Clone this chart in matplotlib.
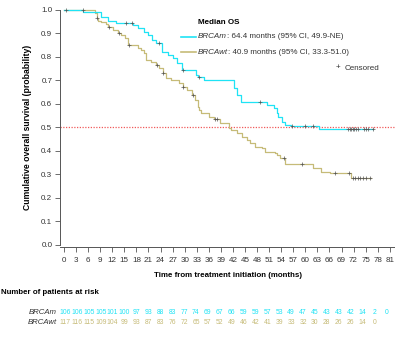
import matplotlib
matplotlib.use("Agg")
import matplotlib.pyplot as plt
import numpy as np

plt.rcParams['font.family'] = ['Liberation Sans', 'DejaVu Sans']

# ---------------- data ----------------
m_time = [0, 4.8, 9.3, 10.9, 13.0, 17.2, 18.3, 20.0, 20.8, 22.0, 22.9, 24.4, 25.8, 27.0,
          28.2, 29.3, 32.8, 33.3, 34.8, 42.2, 43.0, 43.9, 50.4, 52.1, 52.9, 53.3, 54.1,
          55.0, 56.4, 63.5]
m_surv = [1.0, 0.991, 0.971, 0.954, 0.946, 0.936, 0.922, 0.907, 0.893, 0.872, 0.861, 0.822,
          0.808, 0.794, 0.773, 0.744, 0.723, 0.713, 0.702, 0.666, 0.638, 0.609, 0.595, 0.582,
          0.561, 0.545, 0.524, 0.510, 0.506, 0.494]
m_end = 76.8
m_cens = [0.5, 4.6, 15.5, 17.0, 23.6, 29.7, 33.6, 48.8, 56.8, 59.9, 61.9, 70.6, 71.0, 71.4,
          71.8, 72.2, 72.6, 73.0, 74.6, 75.2, 75.6, 76.8]

w_time = [0, 7.7, 8.1, 8.5, 9.3, 10.4, 10.9, 12.2, 13.4, 14.2, 15.1, 15.9, 18.3, 19.2, 20.0,
          20.4, 21.7, 22.9, 23.7, 24.5, 25.4, 26.6, 28.6, 29.5, 30.7, 31.9, 32.6, 33.2, 33.6,
          34.0, 36.0, 37.3, 38.9, 40.9, 41.4, 43.0, 44.3, 45.5, 46.3, 47.6, 49.2, 50.0, 52.5,
          52.9, 53.7, 55.0, 61.9, 64.0, 66.1, 71.4]
w_surv = [1.0, 0.986, 0.965, 0.954, 0.950, 0.940, 0.929, 0.915, 0.901, 0.893, 0.879, 0.851,
          0.839, 0.829, 0.815, 0.787, 0.777, 0.766, 0.751, 0.730, 0.709, 0.702, 0.688, 0.670,
          0.659, 0.638, 0.616, 0.588, 0.574, 0.560, 0.545, 0.534, 0.520, 0.496, 0.488, 0.474,
          0.460, 0.446, 0.432, 0.417, 0.410, 0.396, 0.389, 0.382, 0.368, 0.342, 0.325, 0.311,
          0.304, 0.285]
w_end = 76.4
w_cens = [8.2, 11.2, 13.7, 16.1, 23.0, 24.6, 29.7, 32.1, 37.5, 38.0, 54.6, 59.1, 67.3, 70.8,
          71.8, 72.4, 73.0, 73.6, 74.4, 75.2, 76.0]

risk_times = list(range(0, 82, 3))
risk_m = [106, 106, 105, 105, 101, 100, 97, 93, 88, 83, 77, 74, 69, 67, 66, 59, 59, 57, 53,
          49, 47, 45, 43, 43, 42, 14, 2, 0]
risk_w = [117, 116, 115, 109, 104, 99, 93, 87, 83, 76, 72, 65, 57, 52, 49, 46, 42, 41, 39,
          33, 32, 30, 28, 26, 26, 14, 0]

legend_m = ": 64.4 months (95% CI, 49.9-NE)"
legend_w = ": 40.9 months (95% CI, 33.3-51.0)"

C_M = '#1fe3f5'
C_W = '#c6bb78'
C_TXT = '#333333'
FS = 5.8

# ---------------- figure ----------------
fig = plt.figure(figsize=(3.95, 3.38), dpi=100)
ax = fig.add_axes([60/395, 93.4/338, 335/395, 234.6/338])
ax.set_xlim(-1, 82.3)
ax.set_ylim(0, 1.0)


def step_value(times, surv, t):
    idx = np.searchsorted(times, t, side='right') - 1
    return np.array(surv)[idx]


for times, surv, end, cens, col, z in [(w_time, w_surv, w_end, w_cens, C_W, 2),
                                        (m_time, m_surv, m_end, m_cens, C_M, 3)]:
    tt = list(times) + [end]
    ss = list(surv) + [surv[-1]]
    ax.step(tt, ss, where='post', color=col, lw=0.9, clip_on=False, zorder=z)
    cy = step_value(times, surv, np.array(cens))
    ax.plot(cens, cy, ls='none', marker='+', ms=3.5, mew=0.5, color='#555555',
            clip_on=False, zorder=4)

ax.axhline(0.5, color='#f05a5a', lw=0.9, ls=(0, (1, 1.2)), zorder=1)

for s in ['top', 'right']:
    ax.spines[s].set_visible(False)
for s in ['left', 'bottom']:
    ax.spines[s].set_color('#555555')
    ax.spines[s].set_linewidth(0.7)
ax.spines['bottom'].set_position(('outward', 2))

ax.set_xticks(risk_times)
ax.set_yticks(np.round(np.arange(0, 1.01, 0.1), 1))
ax.set_yticklabels([f"{v:.1f}" for v in np.arange(0, 1.01, 0.1)])
ax.tick_params(axis='both', labelsize=FS, colors='#555555', labelcolor=C_TXT,
               length=3.5, width=0.6, direction='out')
ax.tick_params(axis='x', pad=3.5)
ax.tick_params(axis='y', pad=2)

ax.set_xlabel("Time from treatment initiation (months)", fontsize=5.7, fontweight='bold',
              color='black', labelpad=6)
ax.set_ylabel("Cumulative overall survival (probability)", fontsize=6.2, fontweight='bold',
              color='black', labelpad=7)

# ---------------- legend ----------------
def px(x, y):
    return (x / 395, 1 - y / 338)

fig.text(*px(198, 23), "Median OS", fontsize=FS, fontweight='bold', va='center', ha='left')
for yy, col, lab, rest in [(37, C_M, "BRCAm", legend_m), (52, C_W, "BRCAwt", legend_w)]:
    x0, y0 = px(181, yy)
    x1, _ = px(196, yy)
    fig.add_artist(plt.Line2D([x0, x1], [y0, y0], color=col, lw=1.2,
                              transform=fig.transFigure))
    t1 = fig.text(*px(198, yy), lab, fontsize=FS, style='italic', va='center',
                  ha='left', color=C_TXT)
    ax.annotate(rest, xy=(1, 0), xycoords=t1, va='bottom', ha='left', fontsize=FS,
                color=C_TXT, annotation_clip=False)
fig.text(*px(338, 68), "+", fontsize=FS, va='center', ha='center', color=C_TXT)
fig.text(*px(345, 68), "Censored", fontsize=FS, va='center', ha='left', color=C_TXT)

# ---------------- risk table ----------------
fig.text(*px(1, 292), "Number of patients at risk", fontsize=5.7, fontweight='bold',
         va='center', ha='left')
for yy, lab, vals, col in [(313, "BRCAm", risk_m, C_M), (323, "BRCAwt", risk_w, C_W)]:
    fig.text(*px(57, yy), lab, fontsize=5.6, style='italic', va='center', ha='right',
             color=C_TXT)
    for i, v in enumerate(vals):
        xpx = 65 + i * 11.9
        fig.text(*px(xpx, yy), str(v), fontsize=4.9, va='center', ha='center', color=col)

fig.savefig("out.png", dpi=100)
